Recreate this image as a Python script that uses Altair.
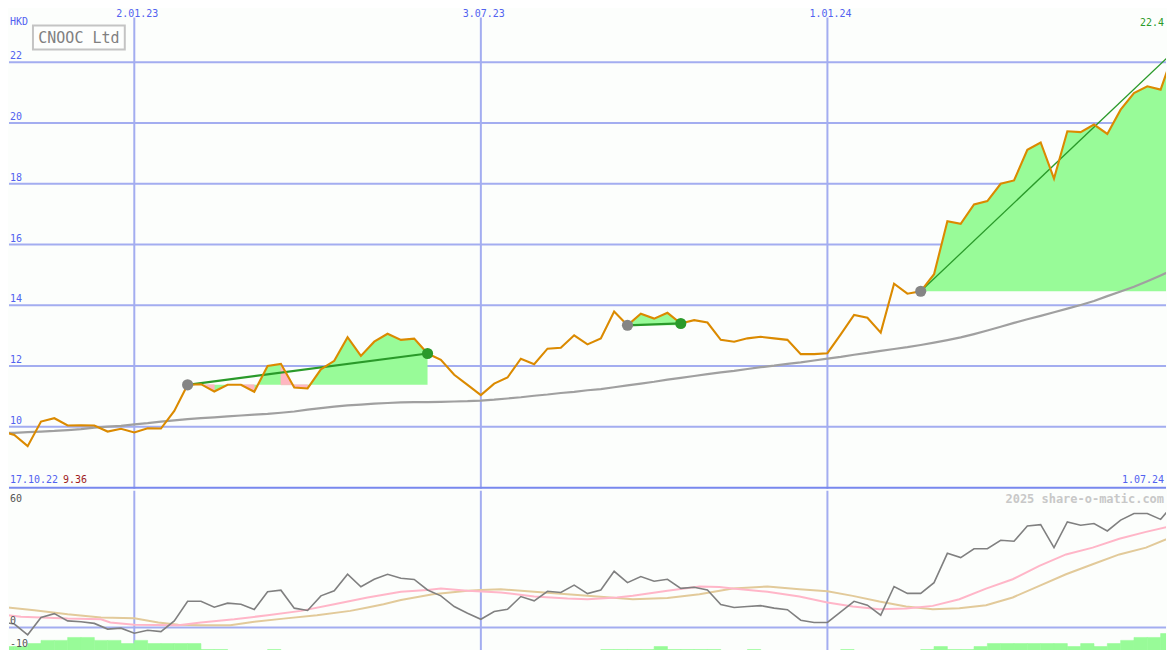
import altair as alt
import pandas as pd

# ---------------- data (weekly, week 0 = 24.10.22 ... week 88 = 1.07.24) ----------------
price = [9.86, 9.73, 9.36, 10.17, 10.28, 10.04, 10.05, 10.04, 9.84, 9.93,
         9.81, 9.95, 9.94, 10.52, 11.38, 11.40, 11.16, 11.38, 11.38, 11.15,
         12.00, 12.07, 11.29, 11.26, 11.89, 12.17, 12.95, 12.33, 12.80, 13.06,
         12.86, 12.90, 12.41, 12.20, 11.71, 11.38, 11.04, 11.42, 11.62, 12.24,
         12.06, 12.57, 12.60, 13.01, 12.71, 12.91, 13.79, 13.34, 13.72, 13.56,
         13.75, 13.40, 13.51, 13.43, 12.86, 12.80, 12.91, 12.96, 12.91, 12.86,
         12.39, 12.39, 12.42, 13.04, 13.68, 13.59, 13.10, 14.71, 14.38, 14.46,
         15.02, 16.77, 16.68, 17.32, 17.43, 18.00, 18.11, 19.12, 19.36, 18.17,
         19.73, 19.70, 19.95, 19.64, 20.44, 20.99, 21.21, 21.10, 22.36]

ma = [9.79, 9.80, 9.82, 9.84, 9.86, 9.89, 9.92, 9.97, 10.00, 10.03,
      10.08, 10.12, 10.17, 10.21, 10.25, 10.28, 10.31, 10.34, 10.37, 10.40,
      10.42, 10.46, 10.50, 10.56, 10.61, 10.66, 10.70, 10.73, 10.76, 10.78,
      10.80, 10.81, 10.81, 10.82, 10.83, 10.84, 10.86, 10.89, 10.93, 10.97,
      11.02, 11.06, 11.11, 11.15, 11.20, 11.24, 11.30, 11.36, 11.42, 11.48,
      11.55, 11.61, 11.67, 11.73, 11.79, 11.84, 11.90, 11.96, 12.01, 12.07,
      12.12, 12.18, 12.24, 12.30, 12.37, 12.43, 12.50, 12.56, 12.62, 12.69,
      12.77, 12.85, 12.94, 13.05, 13.17, 13.29, 13.42, 13.54, 13.65, 13.77,
      13.89, 14.01, 14.14, 14.30, 14.45, 14.61, 14.79, 14.98, 15.18]

osc = [2.5, 1.5, -3.2, 4.4, 6.1, 2.9, 2.5, 1.8, -0.7, -0.3,
       -2.5, -1.2, -1.8, 2.9, 11.5, 11.5, 8.9, 10.7, 10.2, 7.9,
       15.7, 16.4, 8.5, 7.5, 13.9, 16.1, 23.4, 17.9, 21.2, 23.4,
       21.6, 21.1, 16.5, 13.9, 9.2, 6.3, 3.6, 7.0, 8.0, 13.6,
       11.7, 15.9, 15.4, 18.6, 14.9, 16.5, 24.7, 19.7, 22.4, 20.3,
       21.2, 17.2, 17.7, 16.5, 10.1, 8.8, 9.2, 9.6, 8.5, 7.8,
       3.2, 2.2, 2.2, 6.9, 11.5, 9.8, 5.4, 18.0, 15.0, 15.0,
       19.7, 32.6, 30.7, 34.6, 34.6, 38.3, 37.9, 44.6, 45.2, 35.1,
       46.4, 44.9, 45.7, 42.4, 47.2, 50.1, 50.1, 47.5, 54.5]

pink_w = [0, 1.5, 3, 5, 7.5, 8.2, 10, 13.3, 15, 17.5, 20, 22.5, 25, 27.5, 30,
          32, 33, 35, 37.5, 40, 42.5, 44, 46.2, 47.4, 50, 52.4, 53.9, 54.9, 57.5, 59.9,
          62, 63.9, 65.9, 67.9, 69.9, 71.9, 73.9, 75.9, 77.9, 79.9, 81.9, 83.9, 85.9, 88]
pink_v = [5.8, 4.7, 4.4, 3.9, 3.6, 2.2, 1.2, 1.0, 2.2, 3.6, 5.4, 7.3, 10.2, 13.2, 15.7,
          16.5, 17.1, 16.1, 15.4, 13.6, 12.7, 12.4, 13.2, 13.9, 16.1, 18.0, 17.8, 17.1, 15.7, 13.6,
          11.0, 9.2, 8.0, 8.3, 9.5, 12.4, 17.1, 21.2, 27.1, 32.1, 35.1, 39.0, 42.0, 44.9]

tan_w = [0, 2.5, 5, 7.5, 10, 11.8, 13.3, 15, 17.2, 19, 21.2, 23.7, 26.2, 27.5, 28.7, 30,
         32.4, 35, 36, 37.5, 40, 42.5, 44, 47.4, 50, 52.4, 54.9, 57.5, 59.9,
         62, 63.9, 65.9, 67.9, 69.9, 71.9, 73.9, 75.9, 77.9, 79.9, 81.9, 83.9, 85.9, 88]
tan_v = [9.1, 7.6, 5.8, 4.4, 4.1, 2.2, 1.2, 1.0, 1.0, 2.5, 3.9, 5.4, 7.3, 8.8, 10.2, 12.1,
         14.6, 16.1, 16.5, 16.8, 15.7, 14.6, 13.9, 12.4, 13.0, 14.6, 17.1, 18.0, 16.8,
         15.9, 13.9, 11.4, 9.2, 8.0, 8.5, 9.8, 13.2, 18.3, 23.4, 27.8, 32.1, 35.1, 40.2]

# histogram (one bar per week, week k .. k+1)
bars = [2.6, 2.6, 3.9, 5.3, 5.3, 6.6, 6.6, 5.3, 5.3, 3.9,
        5.3, 3.9, 3.9, 3.9, 3.9, 1.3, 1.3, 0, 0, 0,
        1.3, 0, 0, 0, 0, 0, 0, 0, 0, 0,
        0, 0, 0, 0, 0, 0, 0, 0, 0, 0,
        0, 0, 0, 0, 0, 1.3, 1.3, 1.3, 1.3, 2.6,
        1.3, 1.3, 1.3, 1.3, 0, 0, 1.3, 0, 0, 0,
        0, 0, 0, 1.3, 0, 0, 0, 0, 0, 1.3,
        2.6, 1.3, 1.3, 2.6, 3.9, 3.9, 3.9, 3.9, 3.9, 3.9,
        2.6, 3.9, 2.6, 3.9, 5.3, 6.6, 6.6, 8.3]

trend_start = [14, 47, 69]
trend_end = [32, 51, 88]
trend_closed = [True, True, False]
trend_width = [2.2, 2.2, 1.3]

price_ticks = [10, 12, 14, 16, 18, 20, 22]
date_weeks = [10, 36, 62]
date_labels = ["2.01.23", "3.07.23", "1.01.24"]
start_label = "17.10.22"
end_label = "1.07.24"
title = "CNOOC Ltd"
currency = "HKD"
osc_labels = ["60", "0", "-10"]
watermark = "2025 share-o-matic.com"

# ---------------- styling ----------------
BG = "#fcfefc"
GRID = "#a3adf0"
SEP = "#7888ee"
BLUE_TXT = "#5262f0"
ORANGE = "#db8a00"
MA_GRAY = "#a0a0a0"
GREEN = "#2a9a2a"
FILL_UP = "#98fb98"
FILL_DN = "#ffb6c1"
FONT = "DejaVu Sans Mono"

W = 1159
H_TOP = 480
H_BOT = 162
PX_WEEK = 13.352
PX_HKD = 30.42
X0 = 8 / PX_WEEK
X1 = X0 + W / PX_WEEK
xs = alt.Scale(domain=[X0, X1], nice=False, zero=False)
ys = alt.Scale(domain=[24 - 488 / PX_HKD, 24 - 8 / PX_HKD], nice=False, zero=False)
OSC_LO = -10.96
ys2 = alt.Scale(domain=[OSC_LO, 60.09], nice=False, zero=False)


def X(f):
    return alt.X(f, type="quantitative", scale=xs, axis=None)


def Y(f):
    return alt.Y(f, type="quantitative", scale=ys, axis=None)


def Y2(f):
    return alt.Y(f, type="quantitative", scale=ys2, axis=None)


weeks = list(range(len(price)))
df = pd.DataFrame({"w": weeks, "price": price, "ma": ma, "osc": osc})

# trend fills: one green area per trend between price and the start level,
# with pink trapezoids over the weeks that closed below that level
grows = []
prows = []
for t, (s, e) in enumerate(zip(trend_start, trend_end)):
    base = price[s]
    for k in range(s, e + 1):
        grows.append({"t": t, "w": k, "p": price[k], "base": base})
    for k in range(s, e):
        if price[k + 1] < base:
            seg = f"{t}-{k}"
            prows.append({"seg": seg, "w": k, "p": price[k], "base": base})
            prows.append({"seg": seg, "w": k + 1, "p": price[k + 1], "base": base})
green_df = pd.DataFrame(grows)
pink_fill_df = pd.DataFrame(prows)

trows = []
drows = []
for t, (s, e, c, sw) in enumerate(zip(trend_start, trend_end, trend_closed, trend_width)):
    trows.append({"t": t, "w": s, "p": price[s], "sw": sw})
    trows.append({"t": t, "w": e, "p": price[e], "sw": sw})
    drows.append({"w": s, "p": price[s], "col": "#858585"})
    if c:
        drows.append({"w": e, "p": price[e], "col": GREEN})
trend_df = pd.DataFrame(trows)
dot_df = pd.DataFrame(drows)

date_df = pd.DataFrame({"w": date_weeks, "label": date_labels})
tick_df = pd.DataFrame({"v": price_ticks, "label": [str(v) for v in price_ticks]})

# ---------------- top panel ----------------
hgrid = alt.Chart(tick_df).mark_rule(color=GRID, strokeWidth=2).encode(y=Y("v"))
vgrid = alt.Chart(date_df).mark_rule(color=GRID, strokeWidth=2).encode(
    x=X("w"), y=alt.value(8), y2=alt.value(H_TOP))
gfill = alt.Chart(green_df).mark_area(clip=True, opacity=1, color=FILL_UP).encode(
    x=X("w"), y=Y("p"), y2=alt.Y2("base"), detail="t:N")
pfill = alt.Chart(pink_fill_df).mark_area(
    clip=True, opacity=1, color=FILL_DN, stroke=FILL_DN, strokeWidth=0.6).encode(
    x=X("w"), y=Y("p"), y2=alt.Y2("base"), detail="seg:N")
ma_line = alt.Chart(df).mark_line(color=MA_GRAY, strokeWidth=2.2, clip=True).encode(
    x=X("w"), y=Y("ma"))
trend_lines = alt.Chart(trend_df).mark_line(color=GREEN, clip=True).encode(
    x=X("w"), y=Y("p"), detail="t:N", strokeWidth=alt.StrokeWidth("sw:Q", scale=None))
price_line = alt.Chart(df).mark_line(color=ORANGE, strokeWidth=2.1, clip=True).encode(
    x=X("w"), y=Y("price"))
dots = alt.Chart(dot_df).mark_circle(size=125, opacity=1).encode(
    x=X("w"), y=Y("p"), color=alt.Color("col:N", scale=None))
sep = alt.Chart(pd.DataFrame({"a": [0]})).mark_rule(color=SEP, strokeWidth=2).encode(
    y=alt.value(479))

tick_txt = alt.Chart(tick_df).mark_text(
    align="left", baseline="middle", dy=-6, font=FONT, fontSize=10, color=BLUE_TXT).encode(
    x=alt.value(1), y=Y("v"), text="label:N")
date_txt = alt.Chart(date_df).mark_text(
    align="center", baseline="top", dx=3, font=FONT, fontSize=10, color=BLUE_TXT).encode(
    x=X("w"), y=alt.value(-1), text="label:N")
hkd_txt = alt.Chart(pd.DataFrame({"t": [currency]})).mark_text(
    align="left", baseline="middle", font=FONT, fontSize=10, color=BLUE_TXT).encode(
    x=alt.value(1), y=alt.value(12), text="t:N")
last_txt = alt.Chart(pd.DataFrame({"t": [f"{price[-1]:.1f}"]})).mark_text(
    align="right", baseline="middle", font=FONT, fontSize=10, color=GREEN).encode(
    x=alt.value(W - 2), y=alt.value(13), text="t:N")
start_txt = alt.Chart(pd.DataFrame({"t": [start_label]})).mark_text(
    align="left", baseline="middle", font=FONT, fontSize=10, color=BLUE_TXT).encode(
    x=alt.value(1), y=alt.value(471), text="t:N")
low_txt = alt.Chart(pd.DataFrame({"t": [f"{min(price):.2f}"]})).mark_text(
    align="left", baseline="middle", font=FONT, fontSize=10, color="#a01c1c").encode(
    x=alt.value(54), y=alt.value(471), text="t:N")
end_txt = alt.Chart(pd.DataFrame({"t": [end_label]})).mark_text(
    align="right", baseline="middle", font=FONT, fontSize=10, color=BLUE_TXT).encode(
    x=alt.value(W - 2), y=alt.value(471), text="t:N")
title_box = alt.Chart(pd.DataFrame({"a": [0]})).mark_rect(
    fill="#fdfefd", stroke="#c4c4c4", strokeWidth=2).encode(
    x=alt.value(24), x2=alt.value(116), y=alt.value(16), y2=alt.value(40))
title_txt = alt.Chart(pd.DataFrame({"t": [title]})).mark_text(
    align="center", baseline="middle", font=FONT, fontSize=15, color="#808080").encode(
    x=alt.value(70), y=alt.value(28.5), text="t:N")

top = alt.layer(
    hgrid, vgrid, gfill, pfill, ma_line, trend_lines, price_line, dots, sep,
    tick_txt, date_txt, hkd_txt, last_txt, start_txt, low_txt, end_txt, title_box, title_txt
).properties(width=W, height=H_TOP)

# ---------------- bottom panel ----------------
bar_df = pd.DataFrame({"w": list(range(len(bars))),
                       "w2": [k + 1 for k in range(len(bars))],
                       "lo": [OSC_LO] * len(bars),
                       "hi": [OSC_LO + b for b in bars]})
bar_df = bar_df[bar_df["hi"] > OSC_LO]
pink_df = pd.DataFrame({"w": pink_w, "v": pink_v})
tan_df = pd.DataFrame({"w": tan_w, "v": tan_v})

vgrid2 = alt.Chart(date_df).mark_rule(color=GRID, strokeWidth=2).encode(x=X("w"))
zero = alt.Chart(pd.DataFrame({"v": [0]})).mark_rule(color=GRID, strokeWidth=2).encode(y=Y2("v"))
hist = alt.Chart(bar_df).mark_rect(color=FILL_UP, stroke=FILL_UP, strokeWidth=0.6, clip=True).encode(
    x=X("w"), x2=alt.X2("w2"), y=Y2("lo"), y2=alt.Y2("hi"))
tan_line = alt.Chart(tan_df).mark_line(color="#e2ca9a", strokeWidth=2, clip=True).encode(
    x=X("w"), y=Y2("v"))
pink_line = alt.Chart(pink_df).mark_line(color="#ffb6c8", strokeWidth=2, clip=True).encode(
    x=X("w"), y=Y2("v"))
osc_line = alt.Chart(df).mark_line(color="#808080", strokeWidth=1.6, clip=True).encode(
    x=X("w"), y=Y2("osc"))
osc_lab_df = pd.DataFrame({"t": osc_labels, "py": [8, 131, 154]})
osc_txt = alt.Chart(osc_lab_df).mark_text(
    align="left", baseline="middle", font=FONT, fontSize=10, color="#555555").encode(
    x=alt.value(1), y=alt.Y("py:Q", scale=None), text="t:N")
wm_txt = alt.Chart(pd.DataFrame({"t": [watermark]})).mark_text(
    align="right", baseline="middle", font=FONT, fontSize=12, fontWeight="bold",
    color="#c8c8c8").encode(x=alt.value(W - 2), y=alt.value(8), text="t:N")

bottom = alt.layer(
    vgrid2, zero, hist, tan_line, pink_line, osc_line, osc_txt, wm_txt
).properties(width=W, height=H_BOT)

chart = alt.vconcat(top, bottom, spacing=0, padding=0, background=BG).configure_view(
    stroke=None)

chart.save("out.html", embed_options={"renderer": "svg", "actions": False})
